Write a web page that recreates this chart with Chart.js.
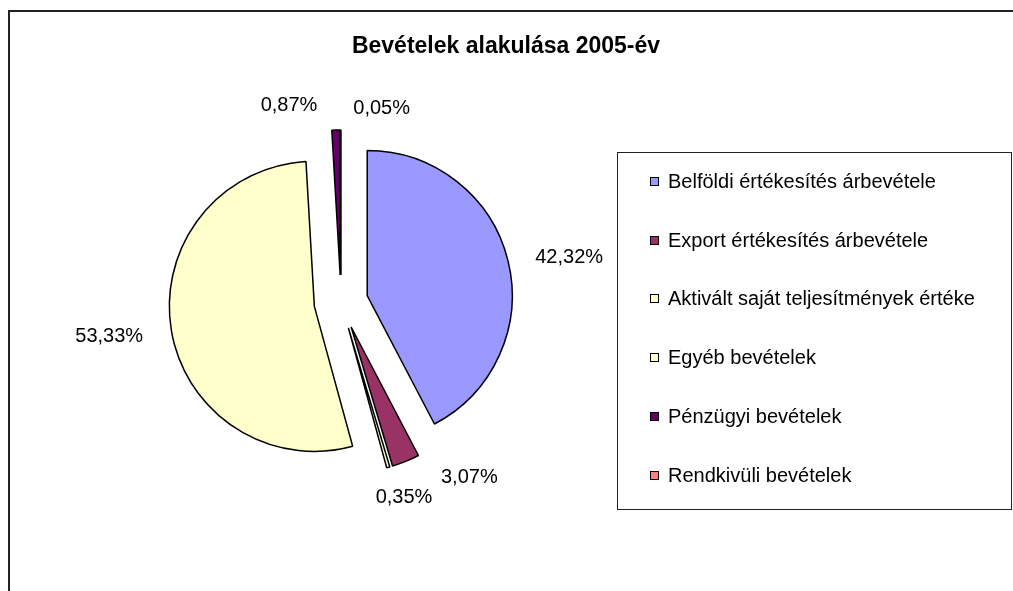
<!DOCTYPE html>
<html>
<head>
<meta charset="utf-8">
<script src="https://cdn.jsdelivr.net/npm/chart.js@4.4.0/dist/chart.umd.min.js"></script>
<style>
  html, body { margin: 0; padding: 0; background: #fff; }
  #wrap { position: relative; width: 1013px; height: 591px; }
</style>
</head>
<body>
<div id="wrap"><canvas id="chart" width="1013" height="591"></canvas></div>
<script>
// chart data
const chartTitle = 'Bevételek alakulása 2005-év';
const categories = [
  'Belföldi értékesítés árbevétele',
  'Export értékesítés árbevétele',
  'Aktivált saját teljesítmények értéke',
  'Egyéb bevételek',
  'Pénzügyi bevételek',
  'Rendkivüli bevételek'
];
const shares = [42.32, 3.07, 0.35, 53.33, 0.87, 0.05];
const sliceColors = ['#9999FF', '#993366', '#FFFFCC', '#FFFFCC', '#660066', '#FF8080'];

// look
const FONT = '"Liberation Sans", Arial, sans-serif';
const explode = 27;
const labelGap = 29;
// Excel spreads crowded labels apart, these shift them
const labelShift = [[0, 6], [42, -20], [0, -7], [0, 0], [-45, 14], [41, 17]];

function pct(v) {
  return v.toFixed(2).replace('.', ',') + '%';
}

const framePlugin = {
  id: 'frame',
  beforeDraw(chart) {
    const ctx = chart.ctx;
    ctx.save();
    ctx.strokeStyle = '#222';
    ctx.lineWidth = 2;
    ctx.beginPath();
    ctx.moveTo(9, 591);
    ctx.lineTo(9, 11);
    ctx.lineTo(1013, 11);
    ctx.stroke();
    ctx.fillStyle = '#000';
    ctx.font = 'bold 23px ' + FONT;
    ctx.textAlign = 'center';
    ctx.textBaseline = 'middle';
    ctx.fillText(chartTitle, 506, 47);
    ctx.restore();
  }
};

const explodePlugin = {
  id: 'explode',
  beforeDatasetDraw(chart, args) {
    const ctx = chart.ctx;
    args.meta.data.forEach(arc => {
      const mid = (arc.startAngle + arc.endAngle) / 2;
      ctx.save();
      ctx.translate(Math.cos(mid) * explode, Math.sin(mid) * explode);
      arc.draw(ctx);
      ctx.restore();
    });
    return false;
  }
};

const labelPlugin = {
  id: 'pctLabels',
  afterDatasetsDraw(chart) {
    const ctx = chart.ctx;
    const meta = chart.getDatasetMeta(0);
    ctx.save();
    ctx.font = '20px ' + FONT;
    ctx.fillStyle = '#000';
    ctx.textAlign = 'center';
    ctx.textBaseline = 'middle';
    meta.data.forEach((arc, i) => {
      const mid = (arc.startAngle + arc.endAngle) / 2;
      const dx = Math.cos(mid), dy = Math.sin(mid);
      const txt = pct(shares[i]);
      const w = ctx.measureText(txt).width;
      const r = arc.outerRadius + explode + labelGap;
      const x = arc.x + r * dx + dx * w / 2 + labelShift[i][0];
      const y = arc.y + r * dy + dy * 10 + labelShift[i][1];
      ctx.fillText(txt, x, y);
    });
    ctx.restore();
  }
};

const legendPlugin = {
  id: 'boxLegend',
  afterDraw(chart) {
    const ctx = chart.ctx;
    ctx.save();
    ctx.strokeStyle = '#222';
    ctx.lineWidth = 1;
    ctx.strokeRect(617.5, 152.5, 394, 357);
    ctx.font = '20px ' + FONT;
    ctx.textBaseline = 'middle';
    categories.forEach((name, i) => {
      const y = Math.round(181 + i * 58.7);
      ctx.fillStyle = sliceColors[i];
      ctx.fillRect(650, y - 4, 9, 9);
      ctx.strokeStyle = '#000';
      ctx.strokeRect(650.5, y - 3.5, 8, 8);
      ctx.fillStyle = '#000';
      ctx.fillText(name, 668, y + 1);
    });
    ctx.restore();
  }
};

new Chart(document.getElementById('chart'), {
  type: 'pie',
  data: {
    labels: categories,
    datasets: [{
      data: shares,
      backgroundColor: sliceColors,
      borderColor: '#000',
      borderWidth: 1.5,
      radius: 145
    }]
  },
  options: {
    responsive: false,
    animation: false,
    events: [],
    layout: { padding: { left: 0, right: 331, top: 13, bottom: 0 } },
    plugins: {
      legend: { display: false },
      tooltip: { enabled: false }
    }
  },
  plugins: [framePlugin, explodePlugin, labelPlugin, legendPlugin]
});
</script>
</body>
</html>
